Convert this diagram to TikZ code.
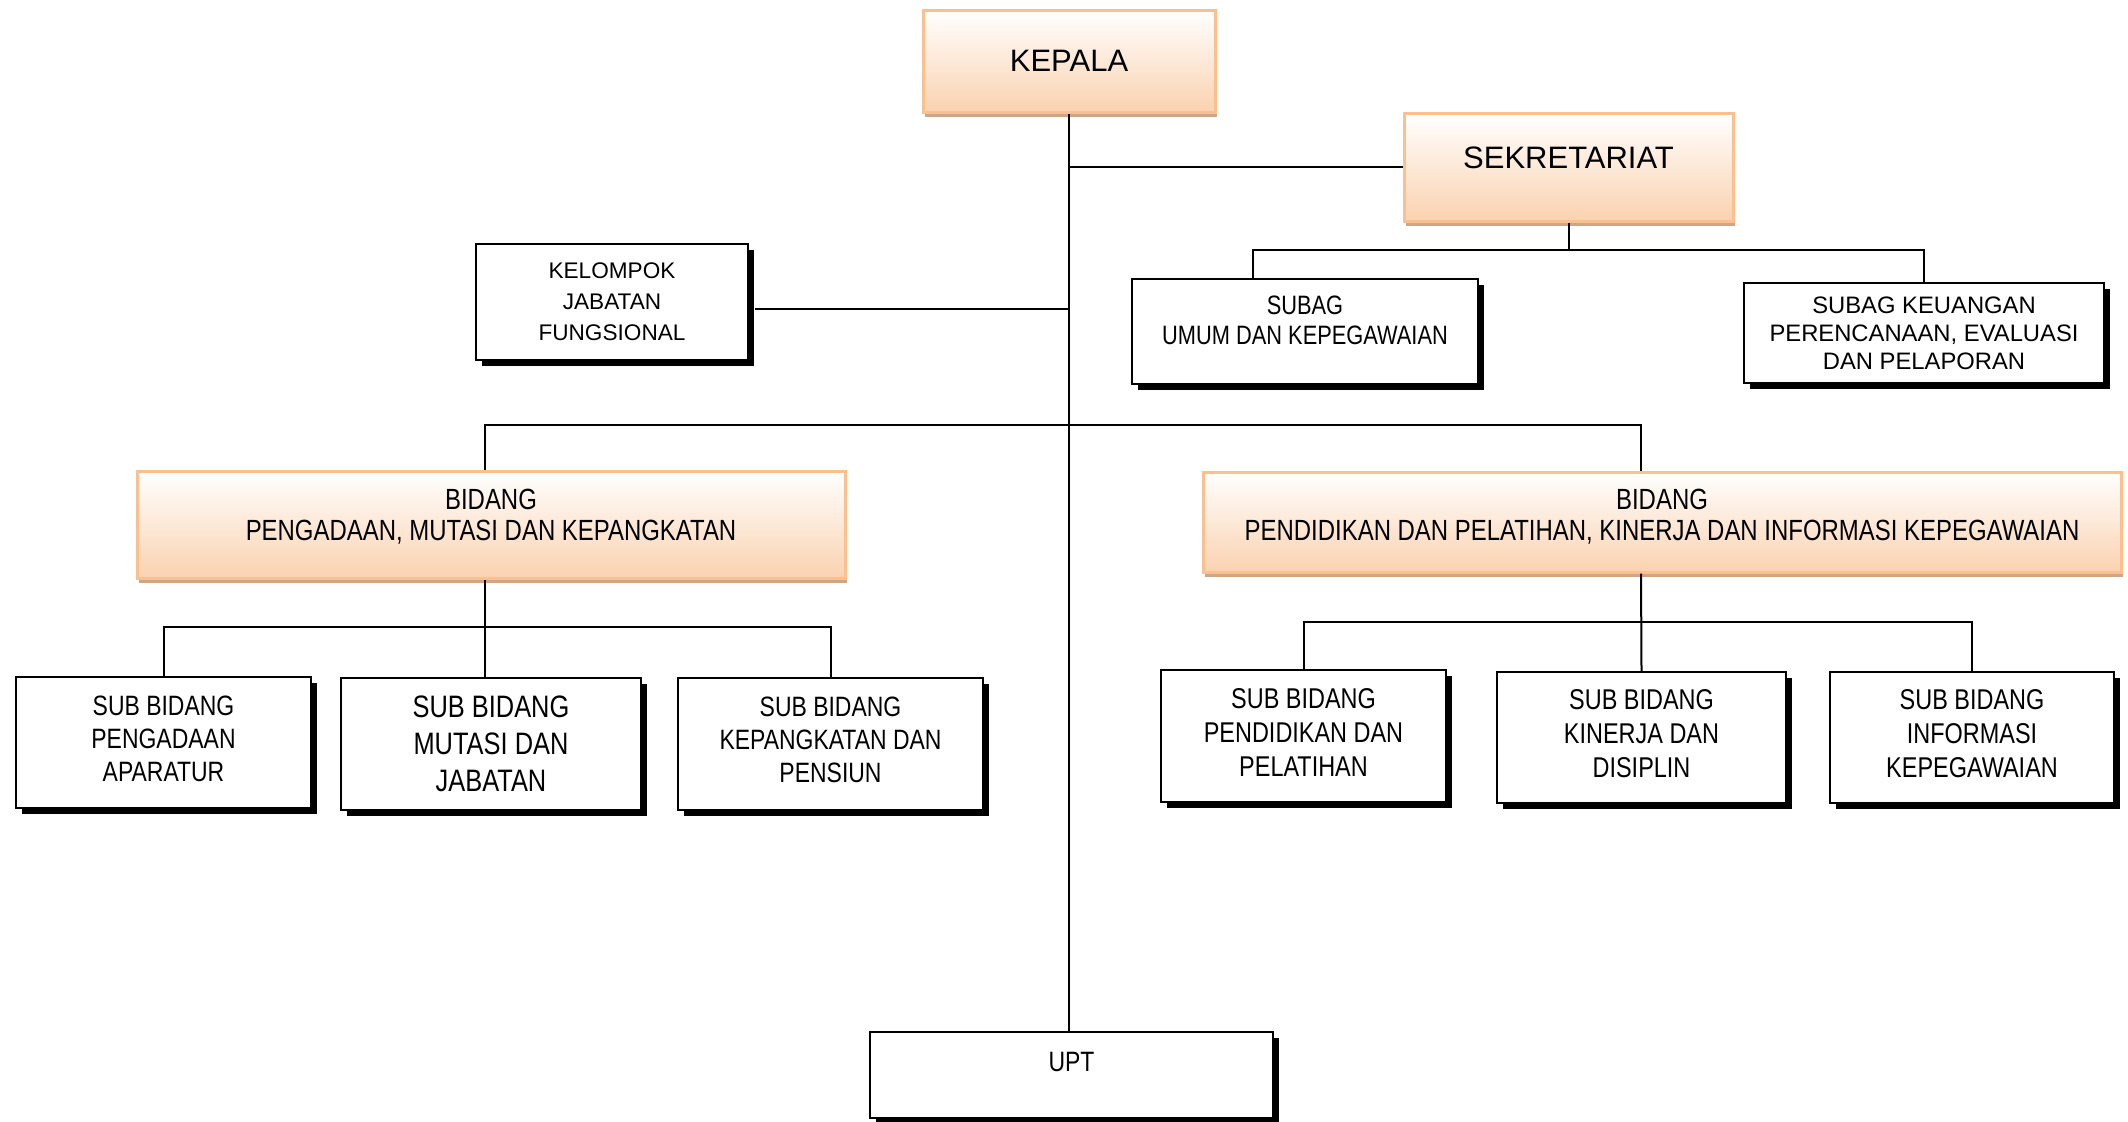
\documentclass[tikz,border=0pt]{standalone}
\usepackage{fontspec}
\setmainfont{Liberation Sans}
\newfontfamily\narrowsans{Liberation Sans}[FakeStretch=0.82]
\usepackage{xcolor}
\usetikzlibrary{shadows}

\definecolor{peachline}{RGB}{250,192,143}
\definecolor{peachfill}{RGB}{250,210,176}
\definecolor{tanshadow}{RGB}{205,165,135}

\tikzset{
  headbox/.style={draw=peachline, line width=1.5pt, top color=white, bottom color=peachfill,
    drop shadow={shadow xshift=1pt, shadow yshift=-2.5pt, fill=tanshadow, opacity=1},
    align=center, inner sep=0pt},
  unitbox/.style={draw=black, line width=1pt, fill=white,
    drop shadow={shadow xshift=3pt, shadow yshift=-3pt, fill=black, opacity=1},
    align=center, inner sep=0pt},
  link/.style={line width=1pt}
}

\begin{document}
\begin{tikzpicture}[x=0.5pt,y=0.5pt,yscale=-1]
\useasboundingbox (0,0) rectangle (2128,1121);

% Head
\node [headbox, minimum width=146pt, minimum height=51pt, font=\fontsize{15.5}{18}\selectfont] (kepala) at (1069,61) {KEPALA};
\node [headbox, minimum width=164.5pt, minimum height=54pt, text depth=9.5pt, font=\fontsize{15.5}{18}\selectfont] (sekretariat) at (1568.5,167) {SEKRETARIAT};

% Sekretariat units
\node [unitbox, minimum width=173pt, minimum height=52.5pt, text depth=11pt, font=\narrowsans\fontsize{13.3}{15}\selectfont] (subagumum) at (1305,331.5) {SUBAG\\UMUM DAN KEPEGAWAIAN};
\node [unitbox, minimum width=180pt, minimum height=50pt, font=\fontsize{11.9}{13.9}\selectfont] (subagkeu) at (1924,333) {SUBAG KEUANGAN\\PERENCANAAN, EVALUASI\\DAN PELAPORAN};

% Kelompok jabatan fungsional
\node [unitbox, minimum width=136pt, minimum height=58pt, font=\fontsize{11.3}{15.5}\selectfont] (kelompok) at (612,302) {KELOMPOK\\JABATAN\\FUNGSIONAL};

% Bidang
\node [headbox, minimum width=354pt, minimum height=53.5pt, text depth=9.5pt, font=\narrowsans\fontsize{14.6}{15.5}\selectfont] (bidpmk) at (491,524.5) {BIDANG\\PENGADAAN, MUTASI DAN KEPANGKATAN};
\node [headbox, minimum width=459pt, minimum height=50pt, text depth=7pt, font=\narrowsans\fontsize{14.6}{15.5}\selectfont] (bidppk) at (1662,522) {BIDANG\\PENDIDIKAN DAN PELATIHAN, KINERJA DAN INFORMASI KEPEGAWAIAN};

% Sub bidang
\node [unitbox, minimum width=147.5pt, minimum height=65.5pt, text depth=4pt, font=\narrowsans\fontsize{14}{16.5}\selectfont] (spa) at (163.5,742.5) {SUB BIDANG\\PENGADAAN\\APARATUR};
\node [unitbox, minimum width=150pt, minimum height=66pt, font=\narrowsans\fontsize{15.5}{18.5}\selectfont] (smj) at (491,744) {SUB BIDANG\\MUTASI DAN\\JABATAN};
\node [unitbox, minimum width=152.5pt, minimum height=66pt, text depth=4pt, font=\narrowsans\fontsize{14}{16.5}\selectfont] (skp) at (830.5,744) {SUB BIDANG\\KEPANGKATAN DAN\\PENSIUN};
\node [unitbox, minimum width=142.5pt, minimum height=66pt, text depth=4pt, font=\narrowsans\fontsize{14.3}{17}\selectfont] (spp) at (1303.5,736) {SUB BIDANG\\PENDIDIKAN DAN\\PELATIHAN};
\node [unitbox, minimum width=144.5pt, minimum height=65.5pt, text depth=4pt, font=\narrowsans\fontsize{14.3}{17}\selectfont] (skd) at (1641.5,737.5) {SUB BIDANG\\KINERJA DAN\\DISIPLIN};
\node [unitbox, minimum width=142pt, minimum height=65.5pt, text depth=4pt, font=\narrowsans\fontsize{14.3}{17}\selectfont] (sik) at (1972,737.5) {SUB BIDANG\\INFORMASI\\KEPEGAWAIAN};

% UPT
\node [unitbox, minimum width=201.5pt, minimum height=43pt, text depth=13pt, font=\narrowsans\fontsize{14}{16.5}\selectfont] (upt) at (1071.5,1075) {UPT};

% Connectors
\coordinate (sekbus) at (1565,250);
\coordinate (bidbus) at (1069,425);
\coordinate (pmkbus) at (485,627);
\coordinate (ppkbus) at (1641,622);

\draw [link] (kepala.south) -- (kepala.south |- upt.north);
\draw [link] (sekretariat.west) -- (kepala.south |- sekretariat.west);
\draw [link] ([xshift=3pt,yshift=3.5pt]kelompok.east) -- ([yshift=3.5pt]kepala.south |- kelompok.east);
\draw [link] (sekretariat.south) -- (sekretariat.south |- sekbus);
\draw [link] ([xshift=-26pt]subagumum.north) |- (sekbus) -| (subagkeu.north);
\draw [link] ([xshift=-3pt]bidpmk.north) |- (bidbus) -| ([xshift=-10.5pt]bidppk.north);
\draw [link] ([xshift=-3pt]bidpmk.south) -- ([xshift=-3pt]smj.north);
\draw [link] (spa.north) |- (pmkbus) -| (skp.north);
\draw [link] ([xshift=-10.5pt]bidppk.south) -- (skd.north);
\draw [link] (spp.north) |- (ppkbus) -| (sik.north);

\end{tikzpicture}
\end{document}
